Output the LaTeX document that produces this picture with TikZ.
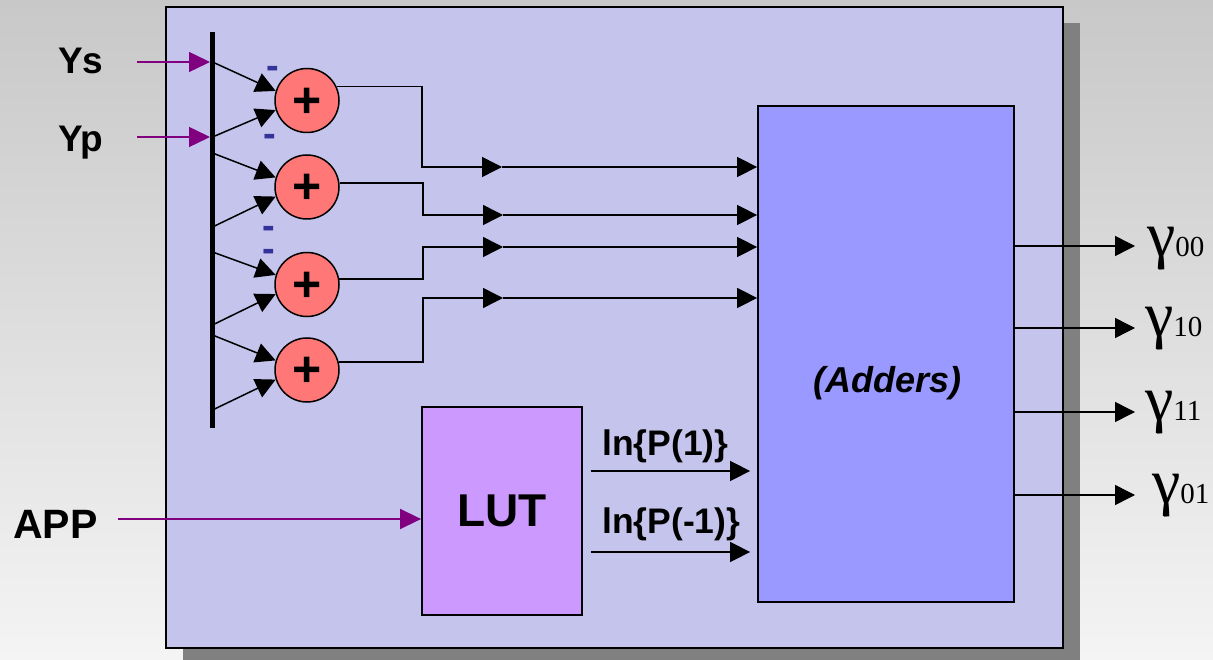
\documentclass[tikz,border=0pt]{standalone}
\usepackage{fontspec}
\setmainfont{Liberation Sans}
\newfontfamily\serifg{Liberation Serif}
\usetikzlibrary{arrows.meta}
\definecolor{bgtop}{RGB}{200,200,200}
\definecolor{bgbot}{RGB}{244,244,244}
\definecolor{panel}{RGB}{196,196,236}
\definecolor{addfill}{RGB}{153,153,255}
\definecolor{lutfill}{RGB}{204,153,255}
\definecolor{sumfill}{RGB}{255,119,119}
\definecolor{minusc}{RGB}{51,51,153}
\definecolor{inarrow}{RGB}{128,0,128}
\definecolor{shadowc}{RGB}{128,128,128}
\tikzset{
  wire/.style={line width=1.5pt, draw=black},
  arr/.style={wire, -{Triangle[length=20pt,width=20pt]}},
  inarr/.style={line width=1.5pt, draw=inarrow, -{Triangle[length=21pt,width=20pt]}},
  sum/.style={circle, draw, line width=1.5pt, fill=sumfill, minimum size=64pt, inner sep=0pt},
  plus/.style={inner sep=0pt, font=\fontsize{50}{50}\selectfont\bfseries},
  lbl/.style={anchor=base west, inner sep=0pt, font=\fontsize{37}{37}\selectfont\bfseries},
  minus/.style={anchor=base, inner sep=0pt, text=minusc, font=\fontsize{38}{38}\selectfont\bfseries},
  plabel/.style={anchor=base west, inner sep=0pt, font=\fontsize{35.5}{35.5}\selectfont\bfseries},
  gam/.style={anchor=base west, inner sep=0pt, font=\serifg},
  blk/.style={draw, line width=1.8pt, inner sep=0pt},
}
\newcommand{\gm}[1]{{\fontsize{64}{64}\selectfont γ}{\fontsize{29}{29}\selectfont #1}}
\begin{document}
\begin{tikzpicture}[x=1pt,y=-1pt]
\useasboundingbox (0,0) rectangle (1213,660);
% background
\shade[top color=bgtop, bottom color=bgbot] (0,0) rectangle (1213,660);
% shadow and panel
\fill[shadowc] (183,23) rectangle (1080,664);
\node[blk, fill=panel, minimum width=897pt, minimum height=641pt] (panel) at (614.5,327.5) {};

% blocks
\node[blk, fill=addfill, minimum width=256pt, minimum height=496pt] (add) at (886,354) {};
\node[blk, fill=lutfill, minimum width=160pt, minimum height=208pt, font=\fontsize{46}{46}\selectfont\bfseries] (lut) at (502,511) {LUT};
\node[font=\fontsize{36}{36}\selectfont\bfseries\itshape, inner sep=0pt, anchor=base west] (addlbl) at (813,392) {(Adders)};

% adders
\node[sum] (s1) at (307,100.5) {};
\node[sum] (s2) at (307,187) {};
\node[sum] (s3) at (307,284.5) {};
\node[sum] (s4) at (307,370) {};
\node[plus] (pl1) at ([yshift=-2pt]s1.center) {+};
\node[plus] (pl2) at ([yshift=-2pt]s2.center) {+};
\node[plus] (pl3) at ([yshift=-2pt]s3.center) {+};
\node[plus] (pl4) at ([yshift=-2pt]s4.center) {+};

% bus
\coordinate (bustop) at (212.5,32);
\coordinate (busbot) at (212.5,428);
\coordinate (t1a) at (212.5,62);
\coordinate (t1b) at (212.5,137);
\coordinate (t2a) at (212.5,153);
\coordinate (t2b) at (212.5,227);
\coordinate (t3a) at (212.5,252);
\coordinate (t3b) at (212.5,325);
\coordinate (t4a) at (212.5,335);
\coordinate (t4b) at (212.5,410);
\draw[arr] (t1a) -- (s1.163);
\draw[arr] (t1b) -- (s1.197);
\draw[arr] (t2a) -- (s2.163);
\draw[arr] (t2b) -- (s2.197);
\draw[arr] (t3a) -- (s3.163);
\draw[arr] (t3b) -- (s3.197);
\draw[arr] (t4a) -- (s4.163);
\draw[arr] (t4b) -- (s4.197);
\draw[line width=5pt] (bustop) -- (busbot);

% inputs
\node[lbl] (ys) at (58,74) {Ys};
\node[lbl] (yp) at (58,152) {Yp};
\node[lbl, font=\fontsize{41}{41}\selectfont\bfseries] (app) at (13,538) {APP};
\coordinate (ysin) at (137,62);
\coordinate (ypin) at (137,137);
\coordinate (appin) at (118,519);
\draw[inarr, shorten >=2.5pt] (ysin) -- (t1a);
\draw[inarr, shorten >=2.5pt] (ypin) -- (t1b);
\draw[inarr] (appin) -- (lut.west |- appin);

% minus signs
\node[minus] (mn1) at (273,79) {-};
\node[minus] (mn2) at (270,147) {-};
\node[minus] (mn3) at (268.5,239) {-};
\node[minus] (mn4) at (268.5,261.5) {-};

% adder outputs
\coordinate (j1) at (422,167);
\coordinate (j2) at (423,215);
\coordinate (j3) at (423,247);
\coordinate (j4) at (423,298);
\coordinate (m1) at (502,167);
\coordinate (m2) at (503,215);
\coordinate (m3) at (503,247);
\coordinate (m4) at (503,298);
\draw[arr] (s1.25) -| (j1) -- (m1);
\draw[arr] (s2.7) -| (j2) -- (m2);
\draw[arr] (s3.10) -| (j3) -- (m3);
\draw[arr] (s4.14.5) -| (j4) -- (m4);
\draw[arr] (m1) -- (add.west |- m1);
\draw[arr] (m2) -- (add.west |- m2);
\draw[arr] (m3) -- (add.west |- m3);
\draw[arr] (m4) -- (add.west |- m4);

% LUT outputs
\coordinate (p1) at (591,471);
\coordinate (p2) at (591,552);
\draw[arr, shorten >=7pt] (p1) -- (add.west |- p1);
\draw[arr, shorten >=7pt] (p2) -- (add.west |- p2);
\node[plabel] (lp1) at (602,455) {ln\{P(1)\}};
\node[plabel] (lp2) at (602,533) {ln\{P(-1)\}};

% outputs
\coordinate (o1) at (1135,246);
\coordinate (o2) at (1135,328);
\coordinate (o3) at (1135,412);
\coordinate (o4) at (1135,495);
\draw[arr] (add.east |- o1) -- (o1);
\draw[arr] (add.east |- o2) -- (o2);
\draw[arr] (add.east |- o3) -- (o3);
\draw[arr] (add.east |- o4) -- (o4);
\node[gam] (g00) at (1147,257) {\gm{00}};
\node[gam] (g10) at (1145,337) {\gm{10}};
\node[gam] (g11) at (1145,420) {\gm{11}};
\node[gam] (g01) at (1152,503) {\gm{01}};
\end{tikzpicture}
\end{document}
